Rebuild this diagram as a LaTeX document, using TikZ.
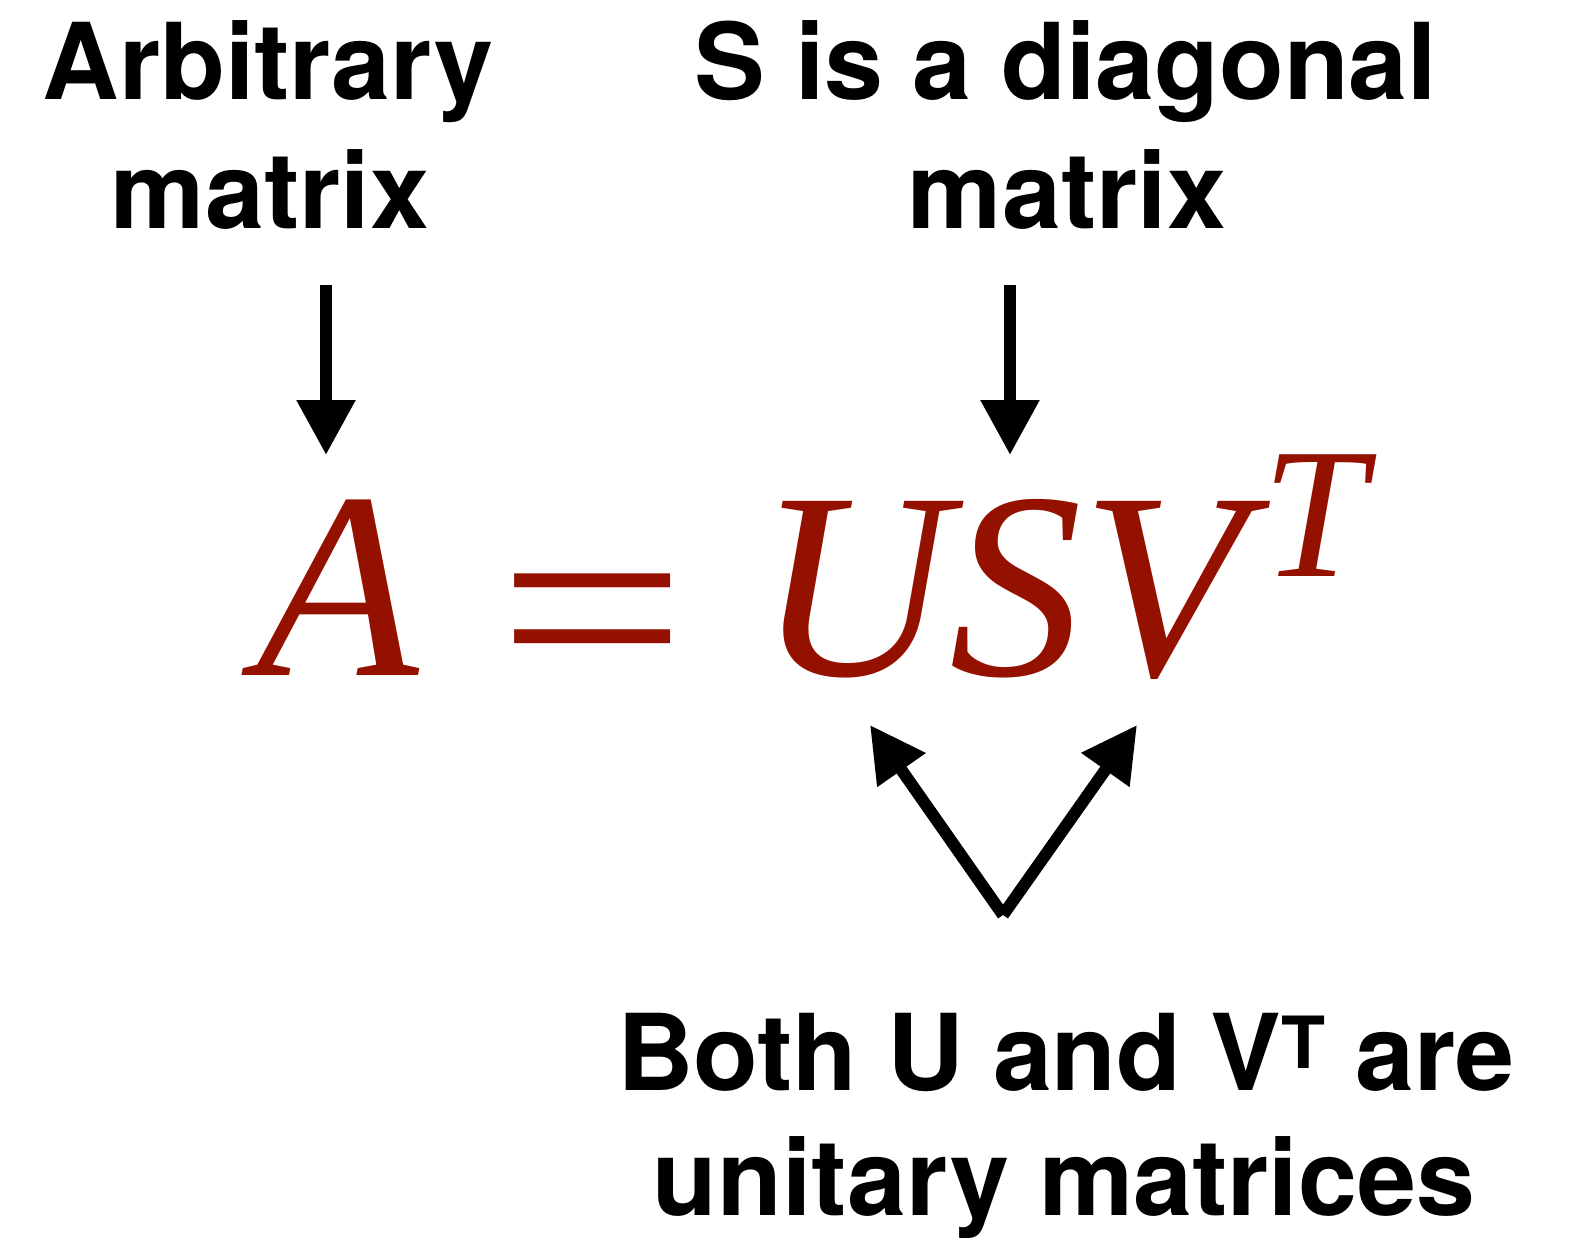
\documentclass[tikz,border=0pt]{standalone}
\usepackage{fontspec}
\setmainfont{TeX Gyre Heros}
\newfontfamily\tms{Liberation Serif}
\usetikzlibrary{arrows.meta}
\definecolor{cayenne}{RGB}{148,17,0}
\tikzset{
  lbl/.style={inner sep=0pt, anchor=base, font=\fontsize{106}{129}\selectfont\bfseries},
  mth/.style={inner sep=0pt, anchor=base, text=cayenne, font=\fontsize{266}{266}\selectfont\tms\itshape},
  arr/.style={line width=12pt, -{Triangle[length=55pt,width=56pt]}},
}
\begin{document}
\begin{tikzpicture}[x=1pt,y=-1pt]
\useasboundingbox[fill=white] (0,0) rectangle (1573,1238);
% labels
\node[lbl] (arb1) at (268,100) {Arbitrary};
\node[lbl] (arb2) at (270,229) {matrix};
\node[lbl] (s1) at (1066,100) {S is a diagonal};
\node[lbl] (s2) at (1067,229) {matrix};
\node[lbl] (b1) at (1066,1090) {Both U and V\raisebox{22pt}{\fontsize{72}{72}\selectfont T} are};
\node[lbl] (b2) at (1064,1215) {unitary matrices};
% equation
\node[mth] (A) at (338,675) {A};
\node[mth, xscale=1.26, yscale=1.05] (eq) at (590,701) {=};
\node[mth] (USV) at (1001,675) {USV};
\node[mth, font=\fontsize{186}{186}\selectfont\tms\itshape] (T) at (1314,576) {T};
% arrows
\coordinate (a1s) at (326,285);
\coordinate (a1e) at (326,455);
\coordinate (a2s) at (1010,285);
\coordinate (a2e) at (1010,455);
\coordinate (j) at (1003,915);
\coordinate (tl) at (870,725);
\coordinate (tr) at (1137,725);
\draw[arr] (a1s) -- (a1e);
\draw[arr] (a2s) -- (a2e);
\draw[arr] (j) -- (tl);
\draw[arr] (j) -- (tr);
\end{tikzpicture}
\end{document}
